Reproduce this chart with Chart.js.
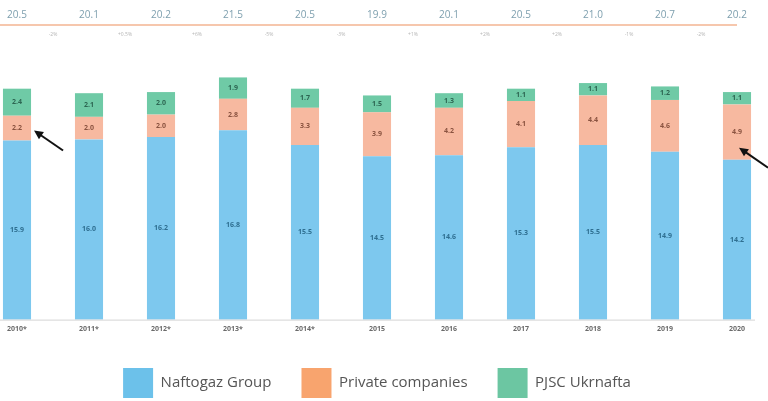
<!DOCTYPE html>
<html lang="en">
<head>
    <meta charset="UTF-8">
    <title>Gas production in Ukraine</title>
    <script src="https://cdn.jsdelivr.net/npm/chart.js"></script>
    <style>
        html, body { margin: 0; padding: 0; background: #ffffff; overflow: hidden; }
        #wrap { width: 768px; height: 408px; }
    </style>
</head>
<body>
    <div id="wrap"><canvas id="chart" width="768" height="408"></canvas></div>
    <script>
        // Years (asterisk as in the source)
        const years = ['2010*', '2011*', '2012*', '2013*', '2014*', '2015', '2016', '2017', '2018', '2019', '2020'];

        // Production, bcm
        const naftogaz = [15.9, 16.0, 16.2, 16.8, 15.5, 14.5, 14.6, 15.3, 15.5, 14.9, 14.2];
        const privateCos = [2.2, 2.0, 2.0, 2.8, 3.3, 3.9, 4.2, 4.1, 4.4, 4.6, 4.9];
        const ukrnafta = [2.4, 2.1, 2.0, 1.9, 1.7, 1.5, 1.3, 1.1, 1.1, 1.2, 1.1];

        // Totals and year-on-year change shown above the bars
        const totals = [20.5, 20.1, 20.2, 21.5, 20.5, 19.9, 20.1, 20.5, 21.0, 20.7, 20.2];
        const changes = ['-2%', '+0.5%', '+6%', '-5%', '-3%', '+1%', '+2%', '+2%', '-1%', '-2%'];

        const legendColors = ['#6cc1ea', '#f8a46e', '#6cc6a2'];
        const labelColors = ['#2f6f91', '#8a5340', '#2d6652'];

        // Values inside the segments, totals row, and the two arrows
        const overlay = {
            id: 'overlay',
            afterDatasetsDraw(chart) {
                const ctx = chart.ctx;
                const area = chart.chartArea;
                ctx.save();
                ctx.textAlign = 'center';
                ctx.textBaseline = 'middle';

                // segment values
                ctx.font = 'bold 7px "Open Sans"';
                chart.data.datasets.forEach((ds, i) => {
                    chart.getDatasetMeta(i).data.forEach((bar, j) => {
                        const c = bar.getCenterPoint();
                        ctx.fillStyle = labelColors[i];
                        ctx.fillText(ds.data[j].toFixed(1), c.x, c.y);
                    });
                });

                const bars = chart.getDatasetMeta(0).data;

                // totals line
                ctx.strokeStyle = '#f6c7ad';
                ctx.lineWidth = 2;
                ctx.beginPath();
                ctx.moveTo(0, 25);
                ctx.lineTo(area.right, 25);
                ctx.stroke();

                ctx.font = '10px "Open Sans"';
                ctx.fillStyle = '#7d9fae';
                totals.forEach((t, j) => ctx.fillText(t.toFixed(1), bars[j].x, 15));

                ctx.font = '5px "Open Sans"';
                ctx.fillStyle = '#b5b5b5';
                changes.forEach((c, j) => {
                    ctx.fillText(c, (bars[j].x + bars[j + 1].x) / 2, 35);
                });

                // baseline
                ctx.strokeStyle = '#d4d4d4';
                ctx.lineWidth = 1;
                ctx.beginPath();
                ctx.moveTo(0, area.bottom + 0.5);
                ctx.lineTo(area.right + 18, area.bottom + 0.5);
                ctx.stroke();

                // arrows pointing at the private companies share in 2010 and 2020
                const privBars = chart.getDatasetMeta(1).data;
                [[0, 3, 10], [privBars.length - 1, -12, 12]].forEach(([j, dx, dy]) => {
                    const b = privBars[j];
                    const tipX = b.x + b.width / 2 + dx;
                    const tipY = b.base - dy;
                    const tailX = tipX + 29;
                    const tailY = tipY + 20;
                    ctx.strokeStyle = '#111';
                    ctx.fillStyle = '#111';
                    ctx.lineWidth = 2;
                    ctx.beginPath();
                    ctx.moveTo(tailX, tailY);
                    ctx.lineTo(tipX + 5, tipY + 3.5);
                    ctx.stroke();
                    const ang = Math.atan2(tailY - tipY, tailX - tipX);
                    ctx.beginPath();
                    ctx.moveTo(tipX, tipY);
                    ctx.lineTo(tipX + 10 * Math.cos(ang - 0.45), tipY + 10 * Math.sin(ang - 0.45));
                    ctx.lineTo(tipX + 10 * Math.cos(ang + 0.45), tipY + 10 * Math.sin(ang + 0.45));
                    ctx.closePath();
                    ctx.fill();
                });
                ctx.restore();
            }
        };

        new Chart(document.getElementById('chart'), {
            type: 'bar',
            data: {
                labels: years,
                datasets: [
                    { label: 'Naftogaz Group', data: naftogaz, backgroundColor: '#7dc8ee' },
                    { label: 'Private companies', data: privateCos, backgroundColor: '#f7b9a0' },
                    { label: 'PJSC Ukrnafta', data: ukrnafta, backgroundColor: '#6fcaa6' }
                ]
            },
            options: {
                responsive: false,
                animation: false,
                layout: { padding: { top: 38, left: 17, right: 31, bottom: 0 } },
                datasets: { bar: { categoryPercentage: 1, barPercentage: 0.39, clip: false } },
                scales: {
                    x: {
                        stacked: true,
                        offset: false,
                        grid: { display: false, drawTicks: false },
                        border: { display: false },
                        ticks: { color: '#6b6b6b', font: { family: 'Open Sans', size: 7, weight: 'bold' }, padding: 5 }
                    },
                    y: {
                        stacked: true,
                        display: false,
                        min: 0,
                        max: 25
                    }
                },
                plugins: {
                    tooltip: { enabled: false },
                    legend: {
                        position: 'bottom',
                        labels: {
                            boxWidth: 30,
                            boxHeight: 30,
                            padding: 30,
                            color: '#555',
                            font: { family: 'Open Sans', size: 15 },
                            generateLabels(chart) {
                                return chart.data.datasets.map((ds, i) => ({
                                    text: ds.label,
                                    fillStyle: legendColors[i],
                                    strokeStyle: legendColors[i],
                                    lineWidth: 0,
                                    fontColor: '#555',
                                    datasetIndex: i
                                }));
                            }
                        }
                    }
                }
            },
            plugins: [overlay]
        });
    </script>
</body>
</html>
